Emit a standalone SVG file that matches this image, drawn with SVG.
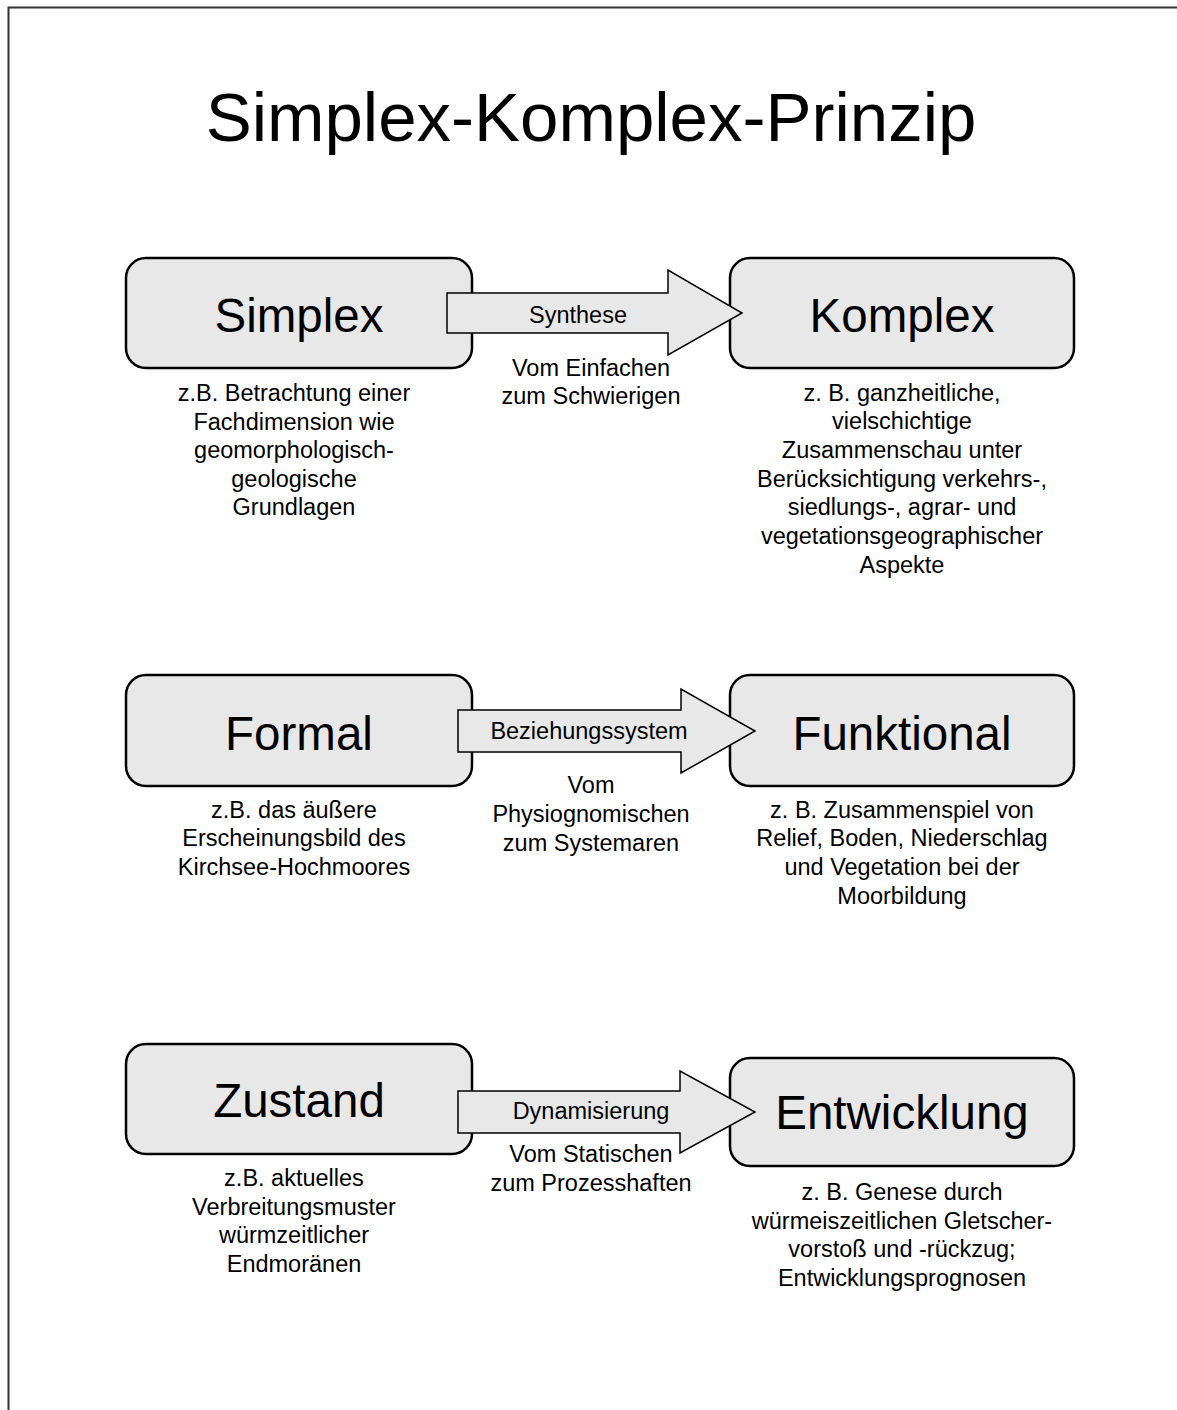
<svg xmlns="http://www.w3.org/2000/svg" width="1177" height="1410" viewBox="0 0 1177 1410">
<style>
.box{fill:#e8e8e8;stroke:#000;stroke-width:2.5}
.arr{fill:#e8e8e8;stroke:#000;stroke-width:1.5}
.t{font-family:"Liberation Sans",Arial,sans-serif;fill:#000;text-anchor:middle}
.big{font-size:47.5px}
.lbl{font-size:23.5px}
.d{font-size:23.5px}
</style>
<rect width="1177" height="1410" fill="#fff"/>
<path d="M8.5,1410 V7.5 H1177" fill="none" stroke="#333" stroke-width="2"/>
<text class="t" x="591" y="141" font-size="69">Simplex-Komplex-Prinzip</text>

<g id="simplex"><rect class="box" x="126" y="258" width="346" height="110" rx="20"/><text class="t big" x="299" y="332">Simplex</text></g>
<g id="komplex"><rect class="box" x="730" y="258" width="344" height="110" rx="20"/><text class="t big" x="902" y="332">Komplex</text></g>
<g id="formal"><rect class="box" x="126" y="675" width="346" height="111" rx="20"/><text class="t big" x="299" y="750">Formal</text></g>
<g id="funktional"><rect class="box" x="730" y="675" width="344" height="111" rx="20"/><text class="t big" x="902" y="750">Funktional</text></g>
<g id="zustand"><rect class="box" x="126" y="1044" width="346" height="110" rx="20"/><text class="t big" x="299" y="1117">Zustand</text></g>
<g id="entwicklung"><rect class="box" x="730" y="1058" width="344" height="108" rx="20"/><text class="t big" x="902" y="1129">Entwicklung</text></g>

<g id="connectors">
<polygon class="arr" points="447,293 668,293 668,270 742,313 668,355 668,333 447,333"/>
<text class="t lbl" x="578" y="323">Synthese</text>
<polygon class="arr" points="458,710 681,710 681,689 755,731 681,773 681,752 458,752"/>
<text class="t lbl" x="589" y="739">Beziehungssystem</text>
<polygon class="arr" points="458,1091 680,1091 680,1071 755,1112 680,1153 680,1133 458,1133"/>
<text class="t lbl" x="591" y="1119">Dynamisierung</text>
</g>

<g id="texts" class="t d">
<text x="294" y="401">z.B. Betrachtung einer</text>
<text x="294" y="430">Fachdimension wie</text>
<text x="294" y="458">geomorphologisch-</text>
<text x="294" y="487">geologische</text>
<text x="294" y="515">Grundlagen</text>

<text x="591" y="376">Vom Einfachen</text>
<text x="591" y="404">zum Schwierigen</text>

<text x="902" y="401">z. B. ganzheitliche,</text>
<text x="902" y="429">vielschichtige</text>
<text x="902" y="458">Zusammenschau unter</text>
<text x="902" y="487">Berücksichtigung verkehrs-,</text>
<text x="902" y="515">siedlungs-, agrar- und</text>
<text x="902" y="544">vegetationsgeographischer</text>
<text x="902" y="573">Aspekte</text>

<text x="294" y="818">z.B. das äußere</text>
<text x="294" y="846">Erscheinungsbild des</text>
<text x="294" y="875">Kirchsee-Hochmoores</text>

<text x="591" y="793">Vom</text>
<text x="591" y="822">Physiognomischen</text>
<text x="591" y="851">zum Systemaren</text>

<text x="902" y="818">z. B. Zusammenspiel von</text>
<text x="902" y="846">Relief, Boden, Niederschlag</text>
<text x="902" y="875">und Vegetation bei der</text>
<text x="902" y="904">Moorbildung</text>

<text x="294" y="1186">z.B. aktuelles</text>
<text x="294" y="1215">Verbreitungsmuster</text>
<text x="294" y="1243">würmzeitlicher</text>
<text x="294" y="1272">Endmoränen</text>

<text x="591" y="1162">Vom Statischen</text>
<text x="591" y="1191">zum Prozesshaften</text>

<text x="902" y="1200">z. B. Genese durch</text>
<text x="902" y="1229">würmeiszeitlichen Gletscher-</text>
<text x="902" y="1257">vorstoß und -rückzug;</text>
<text x="902" y="1286">Entwicklungsprognosen</text>
</g>
</svg>
